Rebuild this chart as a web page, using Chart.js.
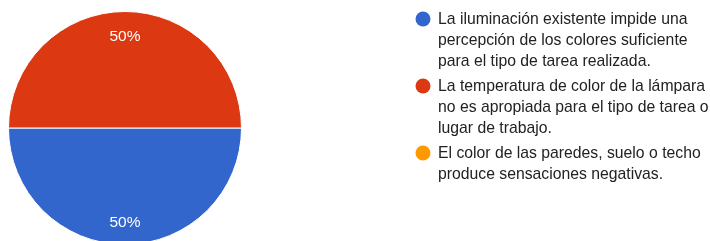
<!DOCTYPE html>
<html>
<head>
<meta charset="utf-8">
<script src="https://cdn.jsdelivr.net/npm/chart.js@4/dist/chart.umd.min.js"></script>
<style>
  html, body { margin: 0; padding: 0; background: #fff; overflow: hidden; }
  #wrap { position: relative; width: 710px; height: 250px; }
</style>
</head>
<body>
<div id="wrap"><canvas id="pie"></canvas></div>
<script>
// categorías (ya partidas en líneas como en la leyenda)
const categories = [
  ['La iluminación existente impide una', 'percepción de los colores suficiente', 'para el tipo de tarea realizada.'],
  ['La temperatura de color de la lámpara', 'no es apropiada para el tipo de tarea o', 'lugar de trabajo.'],
  ['El color de las paredes, suelo o techo', 'produce sensaciones negativas.']
];
const values = [1, 1, 0];
const colors = ['#3366cc', '#dc3912', '#ff9900'];

const FONT = '15.75px Arial, "Liberation Sans", sans-serif';

// etiquetas de porcentaje dentro de cada porción
const pctLabels = {
  id: 'pctLabels',
  afterDatasetsDraw(chart) {
    const ctx = chart.ctx;
    const total = values.reduce((a, b) => a + b, 0);
    const meta = chart.getDatasetMeta(0);
    ctx.save();
    ctx.font = '15.5px Arial, "Liberation Sans", sans-serif';
    ctx.fillStyle = '#fff';
    ctx.textAlign = 'center';
    ctx.textBaseline = 'middle';
    meta.data.forEach((arc, i) => {
      if (!values[i]) return;
      const p = arc.getProps(['x', 'y', 'startAngle', 'endAngle', 'outerRadius'], true);
      const a = (p.startAngle + p.endAngle) / 2;
      const r = p.outerRadius * 0.8;
      const pct = Math.round(values[i] / total * 100) + '%';
      ctx.fillText(pct, p.x + Math.cos(a) * r, p.y + Math.sin(a) * r + 1.5);
    });
    ctx.restore();
  }
};

// leyenda a la derecha, dibujada en el mismo canvas
const sideLegend = {
  id: 'sideLegend',
  afterDraw(chart) {
    const ctx = chart.ctx;
    const x0 = 423, tx = 438, lineH = 21;
    let y = 19;
    ctx.save();
    ctx.font = FONT;
    ctx.textBaseline = 'middle';
    categories.forEach((lines, i) => {
      ctx.fillStyle = colors[i];
      ctx.beginPath();
      ctx.arc(x0, y, 7.5, 0, Math.PI * 2);
      ctx.fill();
      ctx.fillStyle = '#222';
      lines.forEach((t, j) => ctx.fillText(t, tx, y + 1 + j * lineH));
      y += (lines.length - 1) * lineH + 25;
    });
    ctx.restore();
  }
};

new Chart(document.getElementById('pie'), {
  type: 'pie',
  data: {
    labels: categories.map(l => l.join(' ')),
    datasets: [{
      data: values,
      backgroundColor: colors,
      borderColor: '#fff',
      borderWidth: 1
    }]
  },
  options: {
    responsive: true,
    maintainAspectRatio: false,
    animation: false,
    rotation: 90,
    layout: { padding: { left: 8, top: 11, right: 468, bottom: 5 } },
    plugins: {
      legend: { display: false },
      tooltip: { enabled: false }
    }
  },
  plugins: [pctLabels, sideLegend]
});
</script>
</body>
</html>
